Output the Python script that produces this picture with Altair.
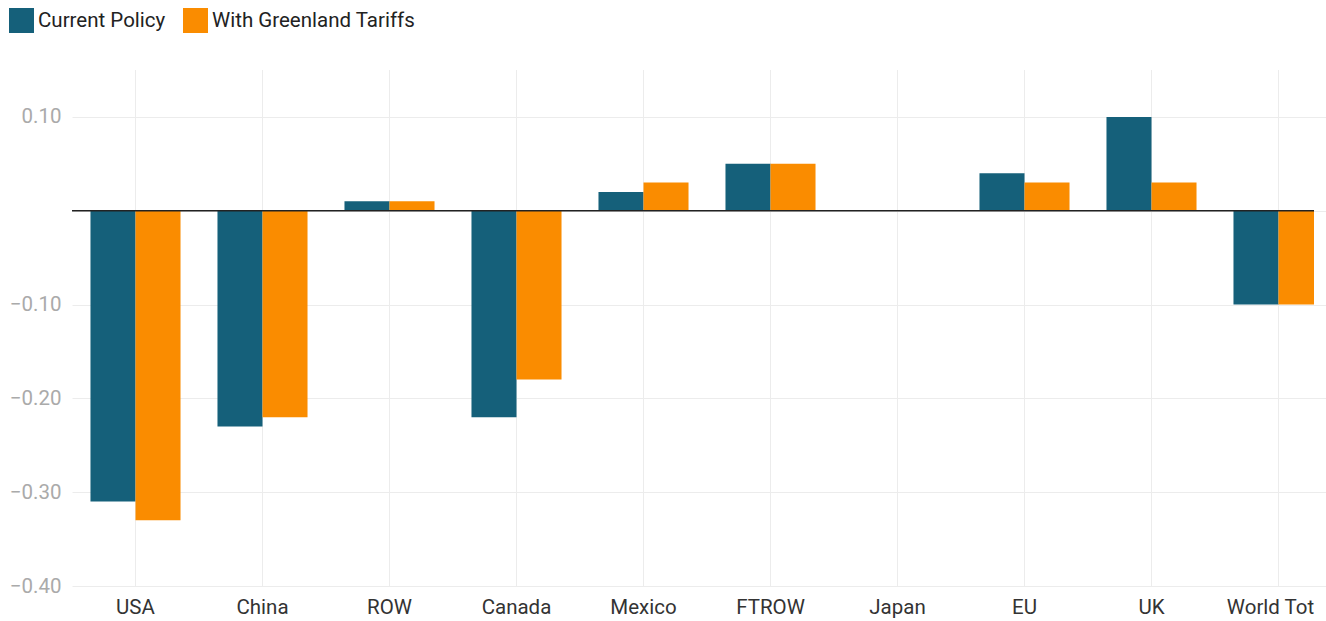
import altair as alt
import pandas as pd

categories = ["USA", "China", "ROW", "Canada", "Mexico", "FTROW", "Japan", "EU", "UK", "World Tot"]
current_policy = [-0.31, -0.23, 0.01, -0.22, 0.02, 0.05, 0.0, 0.04, 0.10, -0.10]
greenland = [-0.33, -0.22, 0.01, -0.18, 0.03, 0.05, 0.0, 0.03, 0.03, -0.10]
series = ["Current Policy", "With Greenland Tariffs"]
colors = ["#15607a", "#fa8c00"]
y_ticks = [0.1, 0.0, -0.1, -0.2, -0.3, -0.4]

rows = []
for c, a, b in zip(categories, current_policy, greenland):
    rows.append({"cat": c, "series": series[0], "value": a})
    rows.append({"cat": c, "series": series[1], "value": b})
df = pd.DataFrame(rows)

W, H = 1242, 516
FS = 20.5

xscale = alt.Scale(domain=categories, range=[0, 1270], paddingInner=0.291, paddingOuter=0.1455)
yscale = alt.Scale(domain=[-0.4, 0.15], nice=False, zero=False)

xaxis = alt.Axis(domain=False, ticks=False, labelAngle=0, labelFontSize=FS,
                 labelColor="#333333", labelPadding=11, labelFont="Roboto",
                 labelOffset=alt.ExprRef("datum.value == 'World Tot' ? -8 : 0"),
                 labelLimit=300, grid=False)

grid_v = alt.Chart(pd.DataFrame({"cat": categories})).mark_rule(
    color="#ececec", strokeWidth=1, clip=True
).encode(
    x=alt.X("cat:N", scale=xscale, sort=categories, title=None, axis=xaxis),
)

bars = alt.Chart(df).mark_bar(clip=True).encode(
    x=alt.X("cat:N", scale=xscale, sort=categories, title=None, axis=xaxis),
    xOffset=alt.XOffset("series:N", sort=series, scale=alt.Scale(paddingInner=0, paddingOuter=0)),
    y=alt.Y("value:Q", scale=yscale, title=None,
            axis=alt.Axis(values=y_ticks, domain=False, ticks=False, labelFontSize=FS,
                          labelColor="#aaaaaa", labelPadding=11, labelFont="Roboto",
                          labelExpr="datum.value == 0 ? '' : replace(format(datum.value, '.2f'), '-', '\u2212')",
                          grid=True, gridColor="#ececec", gridWidth=1)),
    color=alt.Color("series:N", sort=series, scale=alt.Scale(domain=series, range=colors),
                    legend=alt.Legend(title=None, orient="none", legendX=-63, legendY=-62,
                                      direction="horizontal", symbolType="square",
                                      symbolSize=625, symbolStrokeWidth=0, labelFontSize=FS,
                                      labelFont="Roboto", labelColor="#222222", labelLimit=400,
                                      columnPadding=17, labelOffset=4, padding=0)),
)

zero = alt.Chart(pd.DataFrame({"y": [0.0]})).mark_rule(color="#222222", strokeWidth=1.5, clip=True).encode(
    y=alt.Y("y:Q", scale=yscale),
    x=alt.value(0),
    x2=alt.value(W),
)

chart = alt.layer(grid_v, bars, zero).properties(
    width=W, height=H,
    autosize=alt.AutoSizeParams(type="none"),
    padding={"left": 72, "top": 70, "right": 12, "bottom": 35},
).configure(font="Roboto").configure_view(strokeWidth=0, stroke="transparent")

chart.save("out.html", embed_options={"renderer": "svg", "actions": False})
